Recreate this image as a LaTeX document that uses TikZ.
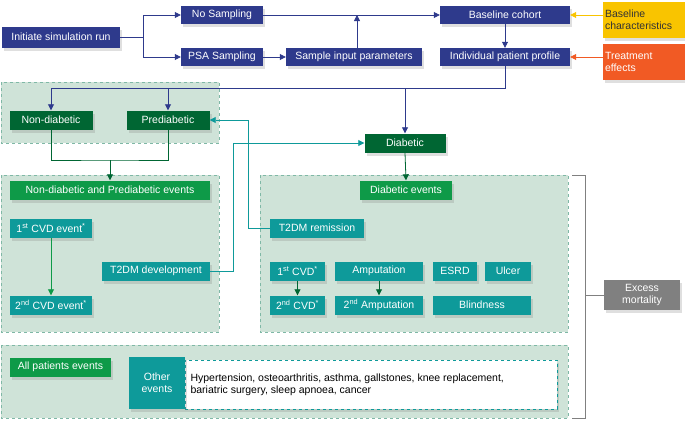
\documentclass[tikz,border=0pt]{standalone}
\usepackage{fontspec}
\setmainfont{Liberation Sans}
\usetikzlibrary{shadows,arrows.meta}
\definecolor{navy}{HTML}{2E3A8C}
\definecolor{dgreen}{HTML}{006633}
\definecolor{mgreen}{HTML}{0E9A48}
\definecolor{teal2}{HTML}{0E9A9A}
\definecolor{pale}{HTML}{CFE3D8}
\definecolor{yel}{HTML}{F9C400}
\definecolor{ora}{HTML}{F15A24}
\definecolor{gry}{HTML}{808080}
\definecolor{dashc}{HTML}{7FB8A6}
\begin{document}
\begin{tikzpicture}[x=1pt,y=-1pt,font=\fontsize{10.5}{12}\selectfont,
 bx/.style={text=white,inner sep=0pt,drop shadow={opacity=0.25,shadow xshift=2pt,shadow yshift=-3pt}},
 nb/.style={bx,fill=navy},
 ar/.style={-{Triangle[length=6pt,width=6pt]},line width=0.8pt},
 zone/.style={fill=pale,draw=dashc,dashed,line width=0.6pt}]
\useasboundingbox (0,0) rectangle (685,423);
% zones
\draw[zone] (1,82) rectangle (219,143);
\draw[zone] (1,175) rectangle (219,332);
\draw[zone] (260,175) rectangle (568,332);
\draw[zone] (1,345) rectangle (568,418);
% top
\node[nb,minimum width=118,minimum height=21] (init) at (61,37) {Initiate simulation run};
\node[nb,minimum width=82,minimum height=18] (nos) at (222,15) {No Sampling};
\node[nb,minimum width=82,minimum height=18] (psa) at (222,57) {PSA Sampling};
\node[nb,minimum width=136,minimum height=18] (sip) at (354,57) {Sample input parameters};
\node[nb,minimum width=130,minimum height=18] (bc) at (505,15) {Baseline cohort};
\node[nb,minimum width=130,minimum height=18] (ipp) at (505,57) {Individual patient profile};
\node[bx,fill=yel,text=black!80,minimum width=82,minimum height=36,align=left,text width=78] (bch) at (644,20) {Baseline\\characteristics};
\node[bx,fill=ora,minimum width=82,minimum height=36,align=left,text width=78] (te) at (644,62) {Treatment\\effects};
\coordinate (sp) at (143,37);
\draw[navy,line width=0.8pt] (init.east) -- (sp);
\draw[navy,ar] (sp) |- (nos.west);
\draw[navy,ar] (sp) |- (psa.west);
\draw[navy,ar] (psa) -- (sip);
\draw[navy,ar] (nos) -- (bc);
\coordinate (up) at (357,15);
\draw[navy,ar] (sip.north -| up) -- (up);
\draw[navy,ar] (bc) -- (ipp);
\draw[yel,ar] (bch.west |- bc) -- (bc.east);
\draw[ora,ar] (te.west |- ipp) -- (ipp.east);
% states
\tikzset{dg/.style={bx,fill=dgreen,minimum width=83,minimum height=19}}
\node[dg] (nd) at (51,120) {Non-diabetic};
\node[dg] (pd) at (168,120) {Prediabetic};
\node[dg,minimum width=81] (dia) at (405,143) {Diabetic};
\coordinate (hl) at (505,88);
\draw[navy,line width=0.8pt] (ipp.south) -- (hl) -- (51,88);
\draw[navy,ar] (51,88) -- (nd.north);
\draw[navy,ar] (168,88) -- (pd.north);
\draw[navy,ar] (405,88) -- (dia.north);
% events
\tikzset{mg/.style={bx,fill=mgreen,minimum height=19},tl/.style={bx,fill=teal2,minimum height=19}}
\node[mg,minimum width=200] (ndpe) at (110,190) {Non-diabetic and Prediabetic events};
\node[mg,minimum width=92] (de) at (406,190) {Diabetic events};
\draw[dgreen,line width=0.8pt] (nd.south) |- (110,160) -| (pd.south);
\draw[dgreen,ar] (110,160) -- (ndpe.north);
\draw[dgreen,ar] (dia.south) -- (de.north);
\node[tl,minimum width=82] (c1) at (51,228) {1\textsuperscript{st} CVD event\textsuperscript{*}};
\node[tl,minimum width=82] (c2) at (51,305) {2\textsuperscript{nd} CVD event\textsuperscript{*}};
\draw[mgreen,ar] (c1) -- (c2);
\node[tl,minimum width=108] (t2d) at (156,271) {T2DM development};
\node[tl,minimum width=94] (rem) at (317,228) {T2DM remission};
\draw[teal2,ar] (t2d.east) -- (233,271) |- (dia.west);
\draw[teal2,ar] (rem.west) -- (248,228) |- (pd.east);
\node[tl,minimum width=55] (d1) at (297.5,271) {1\textsuperscript{st} CVD\textsuperscript{*}};
\node[tl,minimum width=55] (d2) at (297.5,305) {2\textsuperscript{nd} CVD\textsuperscript{*}};
\node[tl,minimum width=88] (a1) at (379,271) {Amputation};
\node[tl,minimum width=88] (a2) at (379,305) {2\textsuperscript{nd} Amputation};
\node[tl,minimum width=44] (es) at (455,271) {ESRD};
\node[tl,minimum width=46] (ul) at (508,271) {Ulcer};
\node[tl,minimum width=98] (bl) at (482,305) {Blindness};
\draw[dgreen,ar] (d1) -- (d2);
\draw[dgreen,ar] (a1) -- (a2);
% bottom
\node[mg,minimum width=101] (ape) at (60.5,367) {All patients events};
\node[fill=white,draw=teal2,dashed,line width=0.5pt,minimum width=372,minimum height=49,inner sep=0pt,drop shadow={opacity=0.25,shadow xshift=2pt,shadow yshift=-3pt}] (wb) at (371,384.5) {};
\node[tl,minimum width=56,minimum height=52,align=center] (oe) at (157,383) {Other\\events};
\node[anchor=west,align=left,text=black] (oel) at (187,384.5) {Hypertension, osteoarthritis, asthma, gallstones, knee replacement,\\bariatric surgery, sleep apnoea, cancer};
% bracket
\draw[gry,line width=0.8pt] (572,175) -- (585,175) -- (585,418) -- (572,418);
\node[bx,fill=gry,minimum width=76,minimum height=30,align=center] (em) at (642,295) {Excess\\mortality};
\draw[gry,line width=0.8pt] (585,295) -- (em.west);
\end{tikzpicture}
\end{document}
